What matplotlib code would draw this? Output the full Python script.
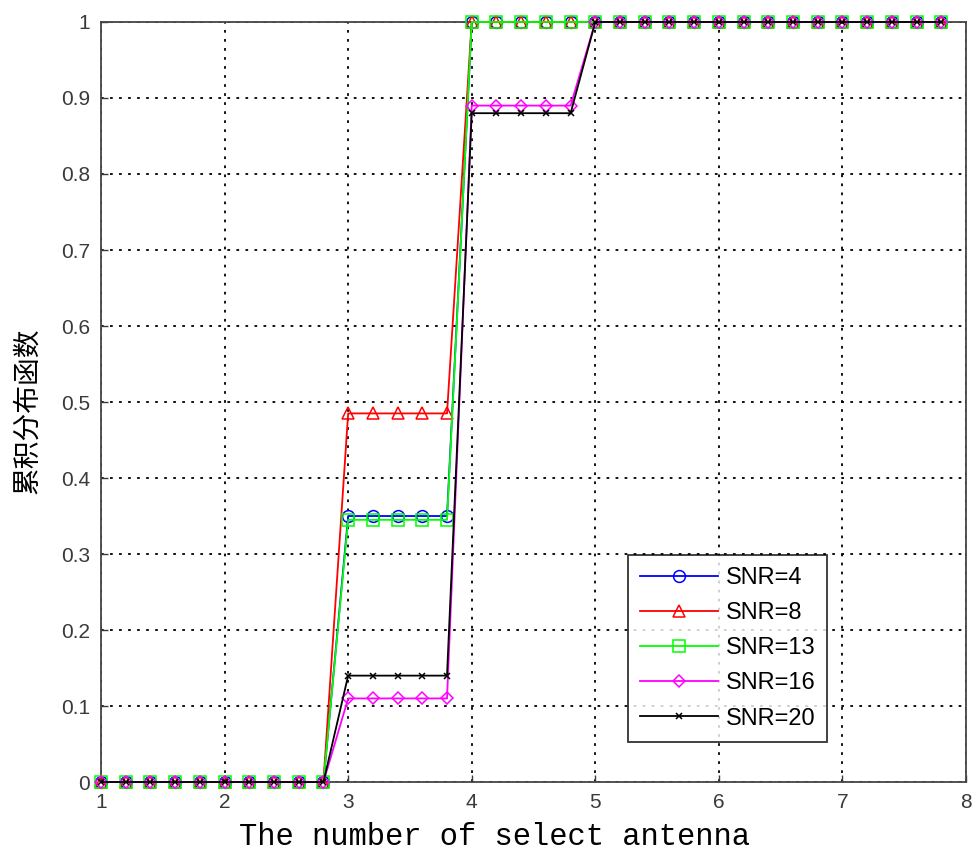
import numpy as np
import matplotlib
matplotlib.use("Agg")
import matplotlib.pyplot as plt

# x samples: 1, 1.2, ..., 7.8
x = np.round(np.arange(1.0, 7.81, 0.2), 1)

snr4  = [0]*10 + [0.35]*5  + [1.0]*20
snr8  = [0]*10 + [0.485]*5 + [1.0]*20
snr13 = [0]*10 + [0.345]*5 + [1.0]*20
snr16 = [0]*10 + [0.11]*5  + [0.89]*5 + [1.0]*15
snr20 = [0]*10 + [0.14]*5  + [0.88]*5 + [1.0]*15

labels = ["SNR=4", "SNR=8", "SNR=13", "SNR=16", "SNR=20"]
series = [snr4, snr8, snr13, snr16, snr20]
colors = ["#0000ff", "#ff0000", "#00ff00", "#ff00ff", "#000000"]
markers = ["o", "^", "s", "D", "x"]
msizes = [8.5, 8.5, 8.5, 6.5, 4.5]

xticks = [1, 2, 3, 4, 5, 6, 7, 8]
yticks = [0, 0.1, 0.2, 0.3, 0.4, 0.5, 0.6, 0.7, 0.8, 0.9, 1.0]
yticklabels = ["0", "0.1", "0.2", "0.3", "0.4", "0.5", "0.6", "0.7", "0.8", "0.9", "1"]

plt.rcParams['font.family'] = ['Liberation Sans', 'DejaVu Sans']

fig = plt.figure(figsize=(9.75, 8.59), dpi=100)
ax = fig.add_axes([0.1036, 0.0896, 0.8872, 0.8848])

for y, lab, c, m, ms in zip(series, labels, colors, markers, msizes):
    ax.plot(x, y, color=c, marker=m, markersize=ms, markerfacecolor='none',
            markeredgecolor=c, markeredgewidth=1.1, linewidth=1.3, label=lab,
            clip_on=False, zorder=3)

ax.set_xlim(1, 8)
ax.set_ylim(0, 1)
ax.set_xticks(xticks)
ax.set_yticks(yticks)
ax.set_yticklabels(yticklabels)
ax.tick_params(direction='in', length=5, labelsize=15, colors='#3a3a3a', width=1, pad=8)
ax.grid(True, linestyle=(0, (1.5, 3.5)), color='black', linewidth=1.3)
for s in ax.spines.values():
    s.set_linewidth(1.3)
    s.set_color('#444444')

ax.set_xlabel("The number of select antenna", family=['Liberation Mono', 'DejaVu Sans Mono'],
              fontsize=22, labelpad=5)
ax.xaxis.set_label_coords(0.455, -0.052)
ax.set_ylabel("累积分布函数", family=['Noto Sans CJK SC', 'DejaVu Sans'], fontsize=20)
ax.yaxis.set_label_coords(-0.068, 0.489)

leg = ax.legend(loc='upper left', bbox_to_anchor=(0.609, 0.2987),
                fontsize=17, frameon=True, fancybox=False, edgecolor='black',
                handlelength=3.3, borderpad=0.5, labelspacing=0.56, handletextpad=0.35,
                borderaxespad=0)
leg.get_frame().set_linewidth(1.3)
leg.set_zorder(5)

fig.savefig("out.png", dpi=100)
